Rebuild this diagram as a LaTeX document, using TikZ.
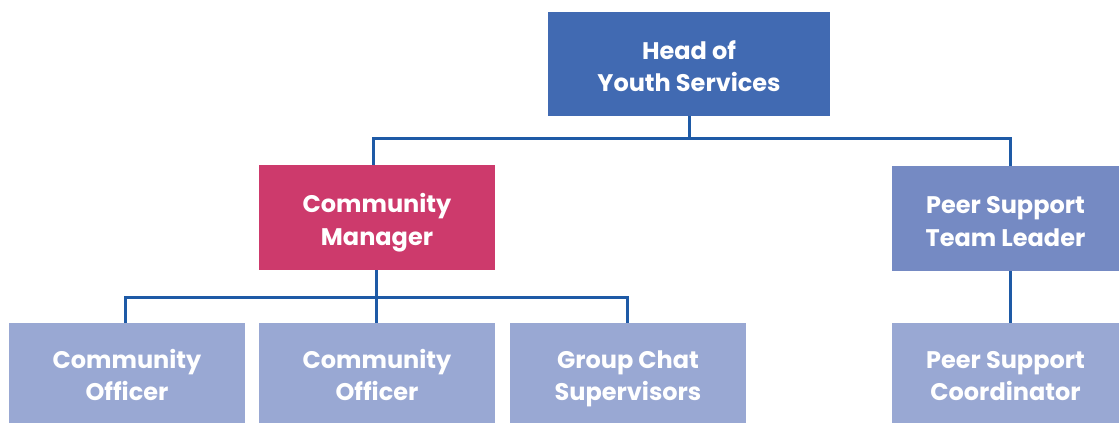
\documentclass[tikz,border=0pt]{standalone}
\usepackage{fontspec}
\setmainfont{Poppins}
% two centred lines, drawn a little below the box centre
\newcommand{\boxlines}[2]{\raisebox{-5pt}[\height][\depth]{\begin{tabular}{@{}c@{}}#1\\#2\end{tabular}}}
\begin{document}
\begin{tikzpicture}[x=1pt,y=-1pt,
  box/.style={rectangle, inner sep=0pt, text=white,
    font=\fontsize{24}{32.5}\selectfont\bfseries},
  link/.style={draw=linkblue, line width=3pt}]
\definecolor{headblue}{RGB}{65,106,178}
\definecolor{mgrpink}{RGB}{205,58,108}
\definecolor{leadblue}{RGB}{117,138,195}
\definecolor{staffblue}{RGB}{153,168,211}
\definecolor{linkblue}{RGB}{30,90,166}
\useasboundingbox (0,0) rectangle (1119,423);

% boxes
\node[box, fill=headblue, minimum width=282pt, minimum height=104pt] (head) at (689,64) {\boxlines{Head of}{Youth Services}};
\node[box, fill=mgrpink, minimum width=236pt, minimum height=105pt] (cm) at (377,217.5) {\boxlines{Community}{Manager}};
\node[box, fill=leadblue, minimum width=227pt, minimum height=105pt] (ptl) at (1005.5,218.5) {\boxlines{Peer Support}{Team Leader}};
\node[box, fill=staffblue, minimum width=236pt, minimum height=100pt] (co1) at (127,373) {\boxlines{Community}{Officer}};
\node[box, fill=staffblue, minimum width=236pt, minimum height=100pt] (co2) at (377,373) {\boxlines{Community}{Officer}};
\node[box, fill=staffblue, minimum width=236pt, minimum height=100pt] (gc) at (628,373) {\boxlines{Group Chat}{Supervisors}};
\node[box, fill=staffblue, minimum width=227pt, minimum height=100pt] (pc) at (1005.5,373) {\boxlines{Peer Support}{Coordinator}};

% bus lines
\coordinate (topbus) at (689,138);
\coordinate (midbus) at (376,297);

\draw[link] (head.south) -- (topbus);
\draw[link] (cm.north -| 373,0) |- (topbus) -| (ptl.north -| 1010,0);
\draw[link] (cm.south -| midbus) -- (midbus);
\draw[link] (co1.north -| 125,0) |- (midbus) -| (gc.north -| 627,0);
\draw[link] (midbus) -- (co2.north -| midbus);
\draw[link] (ptl.south -| 1010,0) -- (pc.north -| 1010,0);
\end{tikzpicture}
\end{document}
